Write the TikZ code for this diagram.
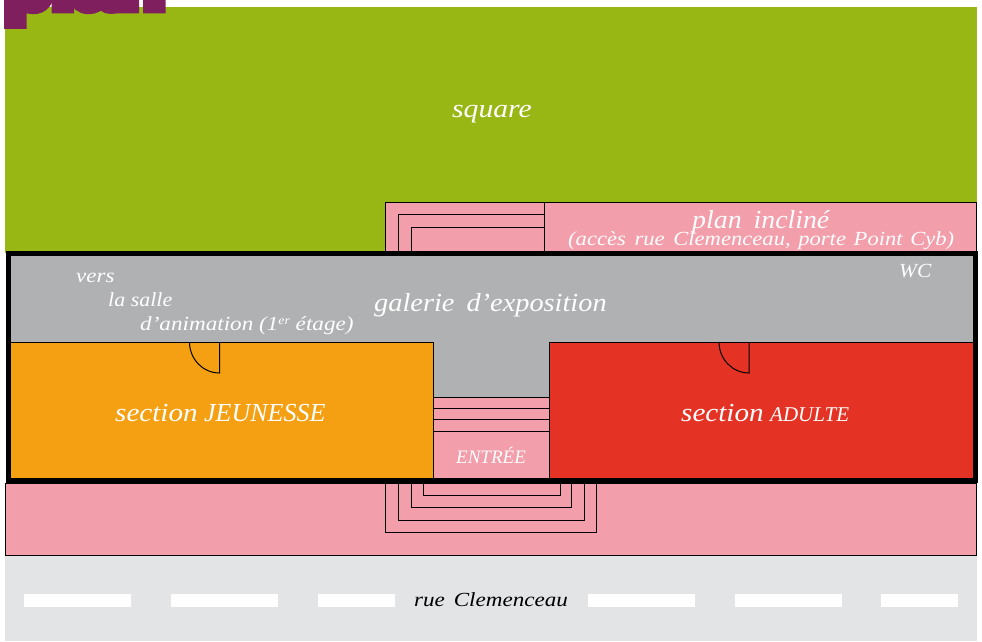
\documentclass[tikz,border=0pt]{standalone}
\usepackage{fontspec}
\setmainfont{Liberation Serif}
\newfontfamily\planfont[FakeBold=16,FakeStretch=1.05]{Liberation Sans Bold}
\definecolor{cgreen}{HTML}{98B715}
\definecolor{cpink}{HTML}{F29EAB}
\definecolor{cgray}{HTML}{B0B1B3}
\definecolor{corange}{HTML}{F5A012}
\definecolor{cred}{HTML}{E43325}
\definecolor{croad}{HTML}{E3E4E6}
\definecolor{cpurple}{HTML}{7F1F5E}
\newcommand{\fsz}[1]{\fontsize{#1}{#1}\selectfont}
\newcommand{\wid}[1]{\addfontfeature{FakeStretch=#1}}
\tikzset{
  x=1pt,y=-1pt,
  thinline/.style={black,line width=1pt},
  wall/.style={black,line width=5pt},
  lab/.style={white,anchor=base west,inner sep=0pt,font=\itshape},
  dashbar/.style={fill=white,draw=none}
}
\begin{document}
\begin{tikzpicture}
\useasboundingbox (0,0) rectangle (982,641);
\clip (0,0) rectangle (982,641);
\fill[cgreen] (5,7) rectangle (977,253);
\node[anchor=base west,inner sep=0pt,text=cpurple] (plantitle) at (4.5,7.5) {\planfont\fsz{74}plan};
% top ramp
\draw[thinline,fill=cpink] (385.7,253) -- (385.7,202) -- (976.5,202) -- (976.5,253);
\draw[thinline] (398,253) -- (398,214) -- (544.7,214);
\draw[thinline] (411.3,253) -- (411.3,227) -- (544.7,227);
\draw[thinline] (544.7,202) -- (544.7,253);
% interior
\fill[cgray] (8,254) rectangle (975,480);
\fill[corange] (10,342) rectangle (433.5,480);
\fill[cred] (549,342) rectangle (973,480);
\fill[cpink] (433.5,397) rectangle (549,480);
\draw[thinline] (10,342) -- (433.5,342) -- (433.5,480);
\draw[thinline] (973,342) -- (549,342) -- (549,480);
\foreach \yy in {397,408,419,431} \draw[thinline] (433.5,\yy) -- (549,\yy);
% doors
\draw[thinline] (189.5,342) arc[start angle=180,end angle=270,x radius=30,y radius=-31] -- (219.5,342);
\draw[thinline] (719,342) arc[start angle=180,end angle=270,x radius=30,y radius=-31] -- (749,342);
% bottom forecourt
\draw[thinline,fill=cpink] (5,483) rectangle (976.5,555);
\draw[thinline] (385.7,483) -- (385.7,532) -- (596.7,532) -- (596.7,483);
\draw[thinline] (398,483) -- (398,520) -- (584.5,520) -- (584.5,483);
\draw[thinline] (411.5,483) -- (411.5,507) -- (571,507) -- (571,483);
\draw[thinline] (423,483) -- (423,495) -- (560,495) -- (560,483);
% walls
\draw[wall] (8,253.5) rectangle (975,480.5);
% road
\fill[croad] (5,556) rectangle (977,641);
\foreach \xa/\xb in {24/131,171/278,318/395,588/695,735/842,881/958}
  \fill[dashbar] (\xa,594) rectangle (\xb,607);
% labels
\node[lab,font=\itshape\fsz{26}\wid{1.14}] (square) at (452,117) {square};
\node[lab,font=\itshape\fsz{26}\wid{1.07}] (incline) at (692,228) {plan\hspace{5pt} incliné};
\node[lab,font=\itshape\fsz{20}\wid{1.13}] (acces) at (568,245) {(accès\hspace{3pt} rue\hspace{3pt} Clemenceau,\hspace{2pt} porte\hspace{2pt} Point\hspace{2pt} Cyb)};
\node[lab,font=\itshape\fsz{20}\wid{1.07}] (wc) at (899,277) {WC};
\node[lab,font=\itshape\fsz{20}\wid{1.15}] (vers) at (76,282) {vers};
\node[lab,font=\itshape\fsz{20}\wid{1.1}] (salle) at (108,306) {la salle};
\node[lab,font=\itshape\fsz{20}\wid{1.157}] (anim) at (140,330) {d’animation (1\raisebox{6pt}{\fsz{12}er} étage)};
\node[lab,font=\itshape\fsz{26}\wid{1.09}] (galerie) at (374,311) {galerie\hspace{5pt} d’exposition};
\node[lab,font=\itshape\fsz{26}] (jeunesse) at (115,421) {{\wid{1.12}section} JEUNESSE};
\node[lab,font=\itshape\fsz{26}] (adulte) at (681,421) {{\wid{1.12}section} {\fsz{21}ADULTE}};
\node[lab,font=\itshape\fsz{19}] (entree) at (456,463) {ENTRÉE};
\node[lab,text=black,font=\itshape\fsz{20}\wid{1.155}] (rue) at (414,606) {rue\hspace{3pt} Clemenceau};
\end{tikzpicture}
\end{document}
